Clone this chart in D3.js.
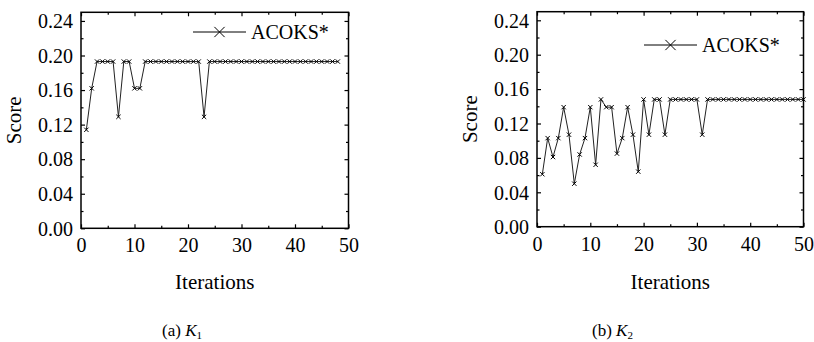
<!DOCTYPE html>
<html>
<head>
<meta charset="utf-8">
<script src="https://cdn.jsdelivr.net/npm/d3@7"></script>
<style>
  body { margin: 0; background: #fff; }
  svg { display: block; }
  text { font-family: "Liberation Serif", "Times New Roman", serif; fill: #000; }
</style>
</head>
<body>
<svg id="chart" width="814" height="342"></svg>
<script>
// iterations and scores
const itersK1 = d3.range(1, 49);
const scoresK1 = [
  0.114, 0.162, 0.193, 0.193, 0.193, 0.193, 0.129, 0.193, 0.193, 0.162,
  0.162, 0.193, 0.193, 0.193, 0.193, 0.193, 0.193, 0.193, 0.193, 0.193,
  0.193, 0.193, 0.129, 0.193, 0.193, 0.193, 0.193, 0.193, 0.193, 0.193,
  0.193, 0.193, 0.193, 0.193, 0.193, 0.193, 0.193, 0.193, 0.193, 0.193,
  0.193, 0.193, 0.193, 0.193, 0.193, 0.193, 0.193, 0.193
];
const itersK2 = d3.range(1, 51);
const scoresK2 = [
  0.061, 0.103, 0.081, 0.103, 0.139, 0.107, 0.050, 0.084, 0.103, 0.139,
  0.072, 0.148, 0.139, 0.139, 0.085, 0.103, 0.139, 0.107, 0.064, 0.148,
  0.107, 0.148, 0.148, 0.107, 0.148, 0.148, 0.148, 0.148, 0.148, 0.148,
  0.107, 0.148, 0.148, 0.148, 0.148, 0.148, 0.148, 0.148, 0.148, 0.148,
  0.148, 0.148, 0.148, 0.148, 0.148, 0.148, 0.148, 0.148, 0.148, 0.148
];
const xTicks = [0, 10, 20, 30, 40, 50];
const yTicks = [0, 0.04, 0.08, 0.12, 0.16, 0.20, 0.24];
const seriesName = "ACOKS*";
const captions = [["(a) ", "K", "1"], ["(b) ", "K", "2"]];

const svg = d3.select("#chart");

const panels = [
  { iters: itersK1, scores: scoresK1, caption: captions[0],
    left: 81, right: 348.5, top: 12.3, bottom: 228.3, legY: 32, legX: 193, capX: 162 },
  { iters: itersK2, scores: scoresK2, caption: captions[1],
    left: 537, right: 803.5, top: 11.7, bottom: 226.7, legY: 45, legX: 644, capX: 592 }
];

const fontSize = 19;

panels.forEach(p => {
  const x = d3.scaleLinear().domain([0, 50]).range([p.left, p.right]);
  const y = d3.scaleLinear().domain([0, 0.25]).range([p.bottom, p.top]);
  const g = svg.append("g");

  // minor ticks (every 5 / 0.02), inward on all four sides
  const xMinor = d3.range(5, 50, 10);
  const yMinor = [0.02, 0.06, 0.10, 0.14, 0.18, 0.22];

  const bottomAxis = g.append("g").attr("transform", `translate(0,${p.bottom})`)
    .call(d3.axisBottom(x).tickValues(xTicks).tickSizeInner(-4).tickSizeOuter(0)
      .tickPadding(10).tickFormat(d3.format("d")));
  g.append("g").attr("transform", `translate(0,${p.bottom})`)
    .call(d3.axisBottom(x).tickValues(xMinor).tickSize(-2.5).tickFormat(""));
  g.append("g").attr("transform", `translate(0,${p.top})`)
    .call(d3.axisTop(x).tickValues(xTicks).tickSizeInner(-4).tickSizeOuter(0).tickFormat(""));
  g.append("g").attr("transform", `translate(0,${p.top})`)
    .call(d3.axisTop(x).tickValues(xMinor).tickSize(-2.5).tickFormat(""));

  const leftAxis = g.append("g").attr("transform", `translate(${p.left},0)`)
    .call(d3.axisLeft(y).tickValues(yTicks).tickSizeInner(-4).tickSizeOuter(0)
      .tickPadding(8).tickFormat(d3.format(".2f")));
  g.append("g").attr("transform", `translate(${p.left},0)`)
    .call(d3.axisLeft(y).tickValues(yMinor).tickSize(-2.5).tickFormat(""));
  g.append("g").attr("transform", `translate(${p.right},0)`)
    .call(d3.axisRight(y).tickValues(yTicks).tickSizeInner(-4).tickSizeOuter(0).tickFormat(""));
  g.append("g").attr("transform", `translate(${p.right},0)`)
    .call(d3.axisRight(y).tickValues(yMinor).tickSize(-2.5).tickFormat(""));

  g.selectAll(".domain").remove();
  g.selectAll(".tick line").attr("stroke", "#000").attr("stroke-width", 1.2);
  g.selectAll(".tick text").attr("font-family", "Liberation Serif, Times New Roman, serif")
    .attr("font-size", 20).attr("fill", "#000");
  bottomAxis.selectAll(".tick text").attr("dy", "0.71em");
  leftAxis.selectAll(".tick text").attr("dy", "0.34em");

  // frame
  g.append("rect")
    .attr("x", p.left).attr("y", p.top)
    .attr("width", p.right - p.left).attr("height", p.bottom - p.top)
    .attr("fill", "none").attr("stroke", "#000").attr("stroke-width", 1.5);

  const pts = p.iters.map((it, i) => [it, p.scores[i]]);
  const line = d3.line().x(d => x(d[0])).y(d => y(d[1]));
  g.append("path").datum(pts)
    .attr("d", line).attr("fill", "none")
    .attr("stroke", "#222").attr("stroke-width", 1);

  const marker = d3.symbol(d3.symbolTimes).size(14);
  g.selectAll(".pt").data(pts).join("path")
    .attr("class", "pt")
    .attr("transform", d => `translate(${x(d[0])},${y(d[1])})`)
    .attr("d", marker).attr("fill", "none")
    .attr("stroke", "#000").attr("stroke-width", 1);

  // legend
  g.append("line")
    .attr("x1", p.legX).attr("x2", p.legX + 53)
    .attr("y1", p.legY).attr("y2", p.legY)
    .attr("stroke", "#000").attr("stroke-width", 1);
  g.append("path")
    .attr("transform", `translate(${p.legX + 26.5},${p.legY})`)
    .attr("d", d3.symbol(d3.symbolTimes).size(70)).attr("fill", "none")
    .attr("stroke", "#000").attr("stroke-width", 1);
  g.append("text")
    .attr("x", p.legX + 58).attr("y", p.legY).attr("dy", "0.35em")
    .attr("font-size", 20).text(seriesName);

  // axis titles
  g.append("text")
    .attr("x", (p.left + p.right) / 2).attr("y", 289)
    .attr("text-anchor", "middle").attr("font-size", 21).text("Iterations");
  g.append("text")
    .attr("transform", `translate(${p.left - 60},${(p.top + p.bottom) / 2}) rotate(-90)`)
    .attr("text-anchor", "middle").attr("font-size", 21).text("Score");

  // caption
  const cap = g.append("text").attr("x", p.capX).attr("y", 336).attr("font-size", 17);
  cap.append("tspan").text(p.caption[0]);
  cap.append("tspan").attr("font-style", "italic").text(p.caption[1]);
  cap.append("tspan").attr("font-size", 11).attr("dy", 3).text(p.caption[2]);
});
</script>
</body>
</html>
